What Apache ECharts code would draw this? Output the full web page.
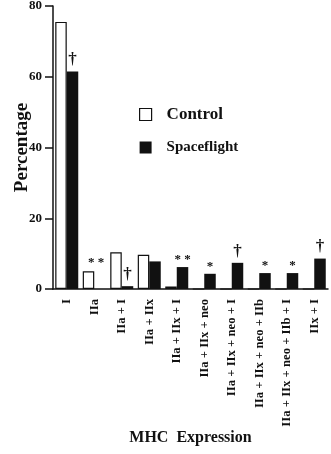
<!DOCTYPE html>
<html>
<head>
<meta charset="utf-8">
<script src="https://cdn.jsdelivr.net/npm/echarts@6/dist/echarts.min.js"></script>
<style>
  html, body { margin: 0; padding: 0; background: #fff; }
  #chart { width: 331px; height: 454px; }
</style>
</head>
<body>
<div id="chart"></div>
<script>
var categories = ['I', 'IIa', 'IIa + I', 'IIa + IIx', 'IIa + IIx + I', 'IIa + IIx + neo',
  'IIa + IIx + neo + I', 'IIa + IIx + neo + IIb', 'IIa + IIx + neo + IIb + I', 'IIx + I'];
var control = [75.5, 5, 10.4, 9.7, 0.7, 0, 0, 0, 0, 0];
var spaceflight = [61.5, 0, 0.8, 7.8, 6.2, 4.3, 7.4, 4.5, 4.5, 8.6];
// significance marks drawn above the spaceflight bars
var marks = ['†', '* *', '†', '', '* *', '*', '†', '*', '*', '†'];
var yTicks = [0, 20, 40, 60, 80];

var serif = "'Liberation Serif', 'Times New Roman', serif";

var sfData = spaceflight.map(function (v, i) {
  var m = marks[i];
  var item = { value: v };
  if (m) {
    item.label = {
      show: true,
      position: 'top',
      formatter: m,
      distance: m === '†' ? 3 : 1,
      fontSize: m === '†' ? 17 : 13,
      offset: i === 1 ? [-4, -19] : [0, 0]
    };
  }
  return item;
});

var chart = echarts.init(document.getElementById('chart'));
chart.setOption({
  backgroundColor: '#fff',
  animation: false,
  textStyle: { fontFamily: serif, fontWeight: 'bold', color: '#111' },
  grid: { left: 53, top: 6, width: 275, bottom: 165, outerBoundsMode: 'none', containLabel: false },
  legend: {
    orient: 'vertical',
    left: 134,
    top: 101,
    icon: 'rect',
    itemWidth: 12,
    itemHeight: 12,
    itemGap: 17,
    data: [
      { name: 'Control', itemStyle: { color: '#fff', borderColor: '#111', borderWidth: 1.2 },
        textStyle: { fontSize: 17, fontFamily: serif, fontWeight: 'bold', color: '#111', padding: [0, 0, 0, 10] } },
      { name: 'Spaceflight', itemStyle: { color: '#111', borderWidth: 0 },
        textStyle: { fontSize: 15, fontFamily: serif, fontWeight: 'bold', color: '#111', padding: [0, 0, 0, 10] } }
    ],
    textStyle: { fontFamily: serif, fontWeight: 'bold', color: '#111' }
  },
  xAxis: {
    type: 'category',
    data: categories,
    name: 'MHC  Expression',
    nameLocation: 'middle',
    nameGap: 141,
    nameMoveOverlap: false,
    nameTextStyle: { fontSize: 16, fontFamily: serif, fontWeight: 'bold', color: '#111' },
    axisLine: { lineStyle: { color: '#111', width: 1.5 } },
    axisTick: { alignWithLabel: true, length: 6, lineStyle: { color: '#111', width: 1.5 } },
    axisLabel: {
      rotate: 90,
      interval: 0,
      margin: 10,
      fontSize: 12.7,
      fontFamily: serif,
      fontWeight: 'bold',
      color: '#111'
    }
  },
  yAxis: {
    type: 'value',
    min: yTicks[0],
    max: yTicks[yTicks.length - 1],
    interval: 20,
    name: 'Percentage',
    nameLocation: 'middle',
    nameGap: 21,
    nameMoveOverlap: false,
    nameTextStyle: { fontSize: 19, fontFamily: serif, fontWeight: 'bold', color: '#111' },
    axisLine: { show: true, lineStyle: { color: '#111', width: 1.5 } },
    axisTick: { show: true, length: 8, lineStyle: { color: '#111', width: 1.5 } },
    axisLabel: { margin: 11, fontSize: 13, fontFamily: serif, fontWeight: 'bold', color: '#111' },
    splitLine: { show: false }
  },
  series: [
    {
      name: 'Control',
      type: 'bar',
      data: control,
      barWidth: 11.5,
      barGap: '0%',
      itemStyle: { color: '#fff', borderColor: '#111', borderWidth: 1.2 }
    },
    {
      name: 'Spaceflight',
      type: 'bar',
      data: sfData,
      barWidth: 11.5,
      itemStyle: { color: '#111' },
      label: { color: '#111', fontFamily: serif, fontWeight: 'bold' }
    }
  ]
});
</script>
</body>
</html>
